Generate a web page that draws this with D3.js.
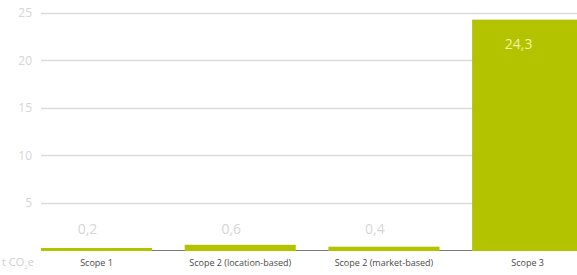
<!DOCTYPE html>
<html>
<head>
<meta charset="utf-8">
<script src="https://cdn.jsdelivr.net/npm/d3@7"></script>
<style>
  body { margin: 0; background: #fff; }
  text { font-family: "Open Sans", "DejaVu Sans", sans-serif; }
</style>
</head>
<body>
<svg width="577" height="275"></svg>
<script>
// data
var categories = ["Scope 1", "Scope 2 (location-based)", "Scope 2 (market-based)", "Scope 3"];
var values = [0.2, 0.6, 0.4, 24.3];
var valueLabels = ["0,2", "0,6", "0,4", "24,3"];
var yTicks = [5, 10, 15, 20, 25];

var svg = d3.select("svg"),
    width = +svg.attr("width"),
    height = +svg.attr("height");

var left = 41, baseY = 250.5;
var step = 143.7, padIn = 0.227;
var green = "#b3c300";

var x = d3.scaleBand()
    .domain(categories)
    .range([left, left + step * (categories.length - padIn)])
    .paddingInner(padIn)
    .paddingOuter(0)
    .align(0);

var y = d3.scaleLinear()
    .domain([0, 25])
    .range([baseY, baseY - 25 * 9.5]);

// grid lines + tick labels
var grid = svg.append("g");
grid.selectAll("line")
    .data(yTicks)
    .enter().append("line")
    .attr("x1", left)
    .attr("x2", width)
    .attr("y1", function (d) { return Math.round(y(d)) + 0.5; })
    .attr("y2", function (d) { return Math.round(y(d)) + 0.5; })
    .attr("stroke", "#dcdcdc")
    .attr("stroke-width", 1.5);
grid.selectAll("text")
    .data(yTicks)
    .enter().append("text")
    .attr("x", 32)
    .attr("y", function (d) { return y(d); })
    .attr("dy", "0.35em")
    .attr("text-anchor", "end")
    .style("font-size", "12px")
    .attr("fill", "#d6d6d6")
    .text(function (d) { return d; });

// baseline
svg.append("line")
    .attr("x1", left)
    .attr("x2", width)
    .attr("y1", baseY)
    .attr("y2", baseY)
    .attr("stroke", "#777")
    .attr("stroke-width", 1);

// bars
svg.append("g").selectAll("rect")
    .data(values)
    .enter().append("rect")
    .attr("x", function (d, i) { return x(categories[i]); })
    .attr("width", x.bandwidth())
    .attr("y", function (d) { return Math.min(y(d), baseY - 2.5); })
    .attr("height", function (d) { return Math.max(baseY - y(d), 2.5) + 0.5; })
    .attr("fill", green);

// value labels
svg.append("g").selectAll("text")
    .data(values)
    .enter().append("text")
    .attr("x", function (d, i) { return x(categories[i]) + x.bandwidth() / 2 - 9; })
    .attr("y", function (d, i) { return i === 3 ? y(d) + 29 : 234; })
    .attr("text-anchor", "middle")
    .style("font-size", "14px")
    .attr("fill", function (d, i) { return i === 3 ? "#eef5a0" : "#d6d6d6"; })
    .text(function (d, i) { return valueLabels[i]; });

// category labels
svg.append("g").selectAll("text")
    .data(categories)
    .enter().append("text")
    .attr("x", function (d) { return x(d) + x.bandwidth() / 2; })
    .attr("y", 266)
    .attr("text-anchor", "middle")
    .style("font-size", "9px")
    .attr("fill", "#4a4a4a")
    .text(function (d) { return d; });

// unit label
var unit = svg.append("text")
    .attr("x", 2)
    .attr("y", 266)
    .style("font-size", "11px")
    .attr("fill", "#d0d0d0");
unit.append("tspan").text("t CO");
unit.append("tspan").attr("dy", 3).style("font-size", "6px").text("2");
unit.append("tspan").attr("dy", -3).text("e");
</script>
</body>
</html>
